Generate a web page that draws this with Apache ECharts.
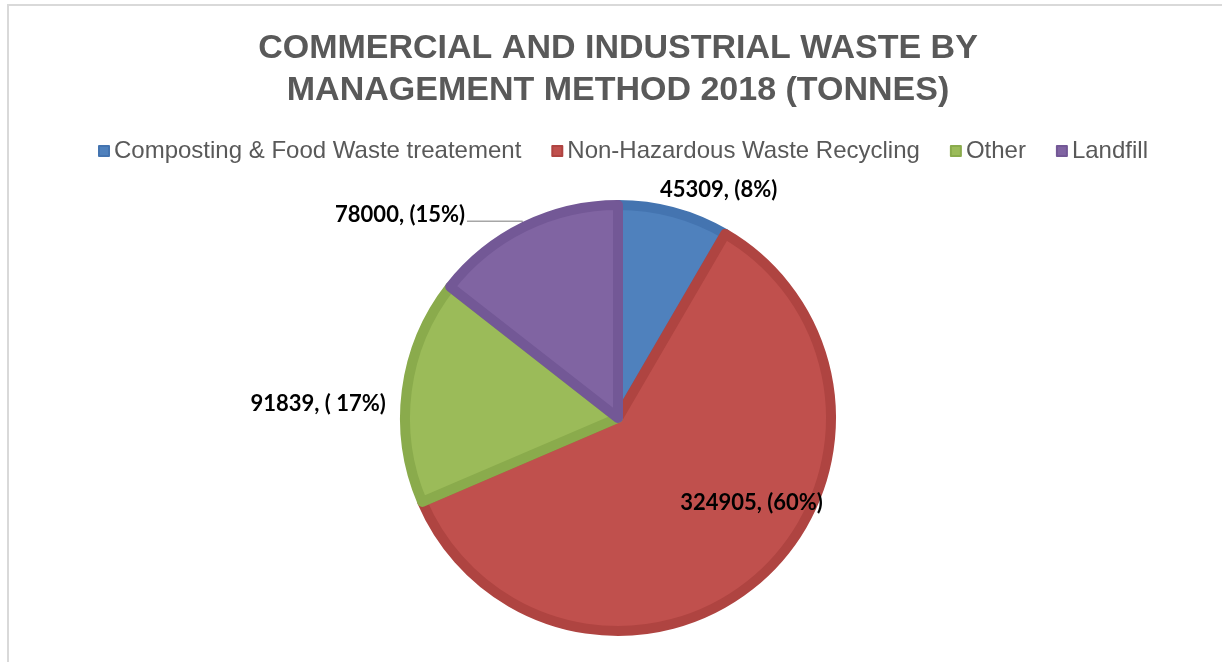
<!DOCTYPE html>
<html>
<head>
<meta charset="utf-8">
<script src="https://cdn.jsdelivr.net/npm/echarts@6/dist/echarts.min.js"></script>
<style>
  html, body { margin: 0; padding: 0; background: #ffffff; }
  #frame { position: absolute; left: 7px; top: 4px; width: 1400px; height: 800px; border-left: 2px solid #d9d9d9; border-top: 2px solid #d9d9d9; }
  #chart { position: absolute; left: 0; top: 0; width: 1222px; height: 662px; }
</style>
</head>
<body>
<div id="frame"></div>
<div id="chart"></div>
<script>
const titleLines = ['COMMERCIAL AND INDUSTRIAL WASTE BY', 'MANAGEMENT METHOD 2018 (TONNES)'];
const categories = ['Composting & Food Waste treatement', 'Non-Hazardous Waste Recycling', 'Other', 'Landfill'];
const values = [45309, 324905, 91839, 78000];
const percentLabels = ['(8%)', '(60%)', '( 17%)', '(15%)'];
const fillColors = ['#4F81BD', '#C0504D', '#9BBB59', '#8064A2'];
const borderColors = ['#4474B0', '#AF4441', '#8AAB4C', '#735896'];

const labelPositions = ['outside', 'inside', 'outside', 'outside'];
const labelLineShown = [false, false, false, true];

const chart = echarts.init(document.getElementById('chart'), null, { renderer: 'canvas' });

const data = categories.map((name, i) => ({
  name: name,
  value: values[i],
  itemStyle: { color: fillColors[i], borderColor: borderColors[i] },
  label: { position: labelPositions[i] },
  labelLine: { show: labelLineShown[i] }
}));

// label offsets (dx, dy) relative to default pie label placement
const labelShift = [[-75, -17], [61, 3], [45, 14], [3, -6]];

chart.setOption({
  animation: false,
  title: {
    text: titleLines.join('\n'),
    left: 613,
    textAlign: 'center',
    top: 23,
    textStyle: {
      fontFamily: 'Liberation Sans',
      fontSize: 34,
      fontWeight: 'bold',
      color: '#595959',
      lineHeight: 42
    }
  },
  legend: {
    data: categories,
    top: 134,
    left: 93,
    itemWidth: 10,
    itemHeight: 10,
    itemGap: 30,
    icon: 'rect',
    textStyle: {
      fontFamily: 'Liberation Sans',
      fontSize: 24,
      color: '#595959',
      padding: [0, 0, 0, 0]
    }
  },
  series: [{
    type: 'pie',
    center: [618, 418],
    radius: [0, 213],
    startAngle: 90,
    clockwise: true,
    avoidLabelOverlap: false,
    itemStyle: { borderWidth: 10 },
    label: {
      show: true,
      fontFamily: 'Lato',
      fontWeight: 'bold',
      fontSize: 22,
      color: '#000000',
      formatter: function (p) { return p.value + ', ' + percentLabels[p.dataIndex]; }
    },
    labelLine: {
      length: 6,
      length2: 55,
      lineStyle: { color: '#a6a6a6', width: 1.5 }
    },
    labelLayout: function (p) {
      const s = labelShift[p.dataIndex];
      return { dx: s[0], dy: s[1] };
    },
    emphasis: { disabled: true },
    data: data
  }]
});
</script>
</body>
</html>
